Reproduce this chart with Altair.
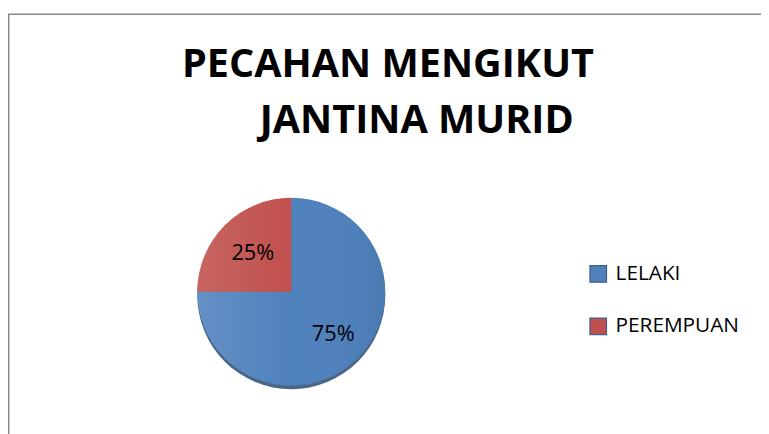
import altair as alt
import pandas as pd

categories = ["LELAKI", "PEREMPUAN"]
values = [75, 25]
labels = ["75%", "25%"]
colors = ["#4F81BD", "#C0504D"]
title_lines = ["PECAHAN MENGIKUT", "JANTINA MURID"]

df = pd.DataFrame({"jantina": categories, "nilai": values, "label": labels, "urutan": [0, 1]})

CX, CY, R = 286.3, 284.5, 95
FONT = "Open Sans"
TAU = 6.283185307179586

base = (
    alt.Chart(df)
    .transform_joinaggregate(total="sum(nilai)")
    .transform_window(cum="sum(nilai)", sort=[alt.SortField("urutan")])
    .transform_calculate(
        a1=f"datum.cum / datum.total * {TAU}",
        a0=f"(datum.cum - datum.nilai) / datum.total * {TAU}",
    )
    .transform_calculate(amid="(datum.a0 + datum.a1) / 2")
)

arc_enc = dict(
    theta=alt.Theta("a0:Q", scale=None),
    theta2=alt.Theta2("a1:Q"),
)

shadow = base.mark_arc(radius=R, color="#2b4a70", opacity=0.85).encode(
    x=alt.value(CX), y=alt.value(CY + 3.5), **arc_enc
)

pie = base.mark_arc(radius=R).encode(
    x=alt.value(CX),
    y=alt.value(CY),
    color=alt.Color(
        "jantina:N",
        scale=alt.Scale(domain=categories, range=colors),
        legend=alt.Legend(
            orient="none",
            legendX=586,
            legendY=256,
            title=None,
            symbolType="square",
            symbolSize=280,
            symbolStrokeColor="#3d5f8a",
            symbolStrokeWidth=1.2,
            symbolOpacity=1,
            labelFont=FONT,
            labelFontSize=21,
            labelColor="#000000",
            labelOffset=7,
            rowPadding=30,
        ),
    ),
    **arc_enc,
)

shade = alt.Chart(pd.DataFrame({"k": [0]})).mark_arc(
    theta=0,
    theta2=TAU,
    radius=R,
    fill=alt.LinearGradient(
        gradient="linear",
        x1=0, y1=0.5, x2=1, y2=0.5,
        stops=[
            alt.GradientStop(color="rgba(255,255,255,0.12)", offset=0),
            alt.GradientStop(color="rgba(255,255,255,0.0)", offset=0.5),
            alt.GradientStop(color="rgba(0,0,0,0.06)", offset=1),
        ],
    ),
).encode(x=alt.value(CX), y=alt.value(CY))

text_big = base.transform_filter(alt.datum.jantina == categories[0]).mark_text(
    radius=60, font=FONT, fontSize=22, color="#000000", baseline="middle"
).encode(x=alt.value(CX), y=alt.value(CY), theta=alt.Theta("amid:Q", scale=None), text="label:N")
text_small = base.transform_filter(alt.datum.jantina == categories[1]).mark_text(
    radius=55, font=FONT, fontSize=22, color="#000000", baseline="middle"
).encode(x=alt.value(CX), y=alt.value(CY), theta=alt.Theta("amid:Q", scale=None), text="label:N")

tdf = pd.DataFrame({"t": title_lines})
title1 = alt.Chart(tdf).transform_filter(alt.datum.t == title_lines[0]).mark_text(
    font=FONT, fontSize=40, fontWeight="bold", color="#000000", align="center", baseline="alphabetic"
).encode(text="t:N", x=alt.value(384), y=alt.value(67))
title2 = alt.Chart(tdf).transform_filter(alt.datum.t == title_lines[1]).mark_text(
    font=FONT, fontSize=40, fontWeight="bold", color="#000000", align="center", baseline="alphabetic"
).encode(text="t:N", x=alt.value(413), y=alt.value(124))

border = alt.Chart(pd.DataFrame({"k": [0]})).mark_rect(
    filled=False, stroke="#8a8a8a", strokeWidth=1.5
).encode(x=alt.value(0.75), y=alt.value(4), x2=alt.value(900), y2=alt.value(700))

chart = alt.layer(border, shadow, pie, shade, text_big, text_small, title1, title2).properties(
    width=761,
    height=426,
    padding=0,
    autosize=alt.AutoSizeParams(type="none"),
).configure_view(stroke=None)

chart.save("out.html", embed_options={"renderer": "svg", "actions": False})
